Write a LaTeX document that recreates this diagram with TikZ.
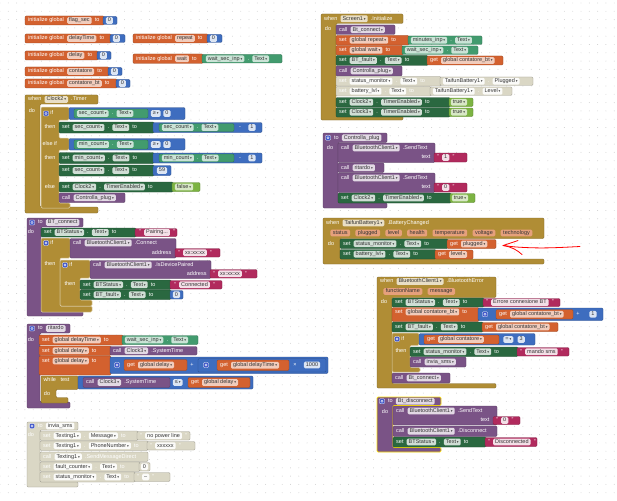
\documentclass[tikz,border=0pt]{standalone}
\usepackage{fontspec}
\setmainfont{Liberation Sans}
\newfontfamily\symf{DejaVu Sans}
\usetikzlibrary{positioning}
\definecolor{aiOrange}{HTML}{D3612F}
\definecolor{aiBlue}{HTML}{3E6DBF}
\definecolor{aiSet}{HTML}{2A6840}
\definecolor{aiGet}{HTML}{429B6E}
\definecolor{aiLogic}{HTML}{7CB342}
\definecolor{aiProc}{HTML}{7A5386}
\definecolor{aiText}{HTML}{B12A5D}
\definecolor{aiCtrl}{HTML}{B08D35}
\definecolor{aiOff}{HTML}{DAD7C5}
\definecolor{aiGear}{HTML}{3F56C9}
\definecolor{aiPar}{HTML}{E6A07C}
\newcommand\ai{\fontsize{5.5}{6}\selectfont}
\newcommand\dd{\,{\symf\fontsize{3.5}{3.5}\selectfont ▾}}
\tikzset{
  blk/.style={draw=#1!72!black, fill=#1, line width=0.3pt, rounded corners=1.2pt},
  ifblk/.style={draw=aiCtrl!40!white, fill=aiCtrl, line width=0.5pt, rounded corners=1.2pt},
  selblk/.style={draw=yellow!85!orange, fill=aiProc, line width=0.7pt, rounded corners=1.2pt},
  lbl/.style={text=white, inner xsep=0.3pt, inner ysep=0.5pt, text height=3.9pt, text depth=1.1pt, font=\ai},
  fld/.style={fill=#1, rounded corners=1.2pt, inner xsep=2pt, inner ysep=0.8pt, text height=3.9pt, text depth=1.1pt, text=black!80, font=\ai},
  fo/.style={fld=aiOrange!32!white},
  fg/.style={fld=aiSet!22!white},
  fl/.style={fld=aiGet!28!white},
  fp/.style={fld=aiProc!22!white},
  fk/.style={fld=aiText!15!white},
  fb/.style={fld=aiBlue!18!white},
  fc/.style={fld=aiCtrl!28!white},
  fv/.style={fld=aiLogic!30!white},
  fw/.style={fld=white!90!aiOff},
  fpar/.style={fld=aiPar, inner xsep=2.5pt},
  gear/.style={fill=aiGear, draw=white, line width=0.3pt, minimum size=5pt, inner sep=0pt, rounded corners=0.8pt,
    path picture={\draw[white, line width=0.4pt] (path picture bounding box.center) circle (1.1pt);}},
  dots/.style={draw=black!20, line width=0.9pt, line cap=round, dash pattern=on 0pt off 8.3pt},
}
% one row of labels and fields inside a block
\newcommand{\row}[4][2.5pt]{%
  \node[inner sep=0pt, minimum size=0pt] (r0) at (#2,#3) {};
  \foreach \s/\t [count=\i, remember=\i as \j (initially 0)] in {#4}
    {\node[\s, right=#1 of r\j] (r\i) {\t};}
}
\begin{document}
\begin{tikzpicture}[x=1pt,y=-1pt]
\useasboundingbox (0,0) rectangle (617,500);
\fill[white] (0,0) rectangle (617,500);
\foreach \yy in {3,11.3,...,500} \draw[dots] (0,\yy) -- (617,\yy);

% global variables
\draw[blk=aiOrange] (25,16) rectangle (104,25);
\draw[blk=aiBlue] (103,16.5) rectangle (117,24.5);
\row{25}{20.5}{lbl/initialize global, fo/flag\_sec, lbl/to}
\row[1.5pt]{104}{20.5}{fb/0}
\draw[blk=aiOrange] (25,34) rectangle (111,43);
\draw[blk=aiBlue] (110,34.5) rectangle (125,42.5);
\row{25}{38.5}{lbl/initialize global, fo/delayTime, lbl/to}
\row[1.5pt]{111}{38.5}{fb/0}
\draw[blk=aiOrange] (133,34) rectangle (208,43);
\draw[blk=aiBlue] (207,34.5) rectangle (222,42.5);
\row{133}{38.5}{lbl/initialize global, fo/repeat, lbl/to}
\row[1.5pt]{208}{38.5}{fb/0}
\draw[blk=aiOrange] (25,51) rectangle (98,60);
\draw[blk=aiBlue] (97,51.5) rectangle (111,59.5);
\row{25}{55.5}{lbl/initialize global, fo/delay, lbl/to}
\row[1.5pt]{98}{55.5}{fb/0}
\draw[blk=aiOrange] (133,54) rectangle (203,63.5);
\draw[blk=aiGet] (202,54.5) rectangle (282,63);
\row{133}{58.75}{lbl/initialize global, fo/wait, lbl/to}
\row{203}{58.75}{fl/wait\_sec\_inp\dd, lbl/., fl/Text\dd}
\draw[blk=aiOrange] (25,67) rectangle (109,76);
\draw[blk=aiBlue] (108,67.5) rectangle (122,75.5);
\row{25}{71.5}{lbl/initialize global, fo/contatore, lbl/to}
\row[1.5pt]{109}{71.5}{fb/0}
\draw[blk=aiOrange] (25,79) rectangle (117,88);
\draw[blk=aiBlue] (116,79.5) rectangle (130,87.5);
\row{25}{83.5}{lbl/initialize global, fo/contatore\_bt, lbl/to}
\row[1.5pt]{117}{83.5}{fb/0}

% when Clock2.Timer
\draw[blk=aiCtrl] (25,95) -- (98,95) -- (98,104) -- (40,104) -- (40,207) -- (98,207) -- (98,213) -- (25,213) -- cycle;
\row{25}{99.5}{lbl/when, fc/Clock2\dd, lbl/.Timer}
\node[lbl] (do1) at (32,111) {do};
\draw[ifblk] (41,107) -- (69,107) -- (69,120) -- (59,120) -- (59,138) -- (69,138) -- (69,150) -- (59,150) -- (59,203) -- (70,203) -- (70,208) -- (41,208) -- cycle;
\node[gear] (gif1) at (46,113.5) {};
\node[lbl, right=1.2pt of gif1] (if1) {if};
\draw[blk=aiBlue] (69,107.5) rectangle (185,119.5);
\draw[blk=aiGet] (74,109) rectangle (148,118);
\row{74}{113.5}{fl/sec\_count\dd, lbl/., fl/Text\dd}
\row{148}{113.5}{fb/≥\dd, fb/0}
\node[lbl] (thn1) at (50,127.5) {then};
\draw[blk=aiSet] (59,122) rectangle (154,133);
\draw[blk=aiBlue] (153,122.5) rectangle (262,132.5);
\draw[blk=aiGet] (159,123.5) rectangle (234,131.5);
\row{59}{127.5}{lbl/set, fg/sec\_count\dd, lbl/., fg/Text\dd, lbl/to}
\row{159}{127.5}{fl/sec\_count\dd, lbl/., fl/Text\dd}
\node[lbl] (mn1) at (240,127.5) {-};
\node[fb] (one1) at (252,127.5) {1};
\node[lbl, anchor=west] (elif) at (42,144.5) {else if};
\draw[blk=aiBlue] (69,138.5) rectangle (185,150);
\draw[blk=aiGet] (74,140) rectangle (148,149);
\row{74}{144.5}{fl/min\_count\dd, lbl/., fl/Text\dd}
\row{148}{144.5}{fb/≥\dd, fb/0}
\node[lbl] (thn2) at (50,158) {then};
\draw[blk=aiSet] (59,152.5) rectangle (154,163.5);
\draw[blk=aiBlue] (153,153) rectangle (262,163);
\draw[blk=aiGet] (159,154) rectangle (234,162);
\row{59}{158}{lbl/set, fg/min\_count\dd, lbl/., fg/Text\dd, lbl/to}
\row{159}{158}{fl/min\_count\dd, lbl/., fl/Text\dd}
\node[lbl] (mn2) at (240,158) {-};
\node[fb] (one2) at (252,158) {1};
\draw[blk=aiSet] (59,165) rectangle (154,176);
\draw[blk=aiBlue] (153,165.5) rectangle (171,175.5);
\row{59}{170.5}{lbl/set, fg/sec\_count\dd, lbl/., fg/Text\dd, lbl/to}
\node[fb] (n59) at (162,170.5) {59};
\node[lbl] (els) at (50,187) {else};
\draw[blk=aiSet] (59,182) rectangle (173,192);
\draw[blk=aiLogic] (172,182.5) rectangle (200,191.5);
\row{59}{187}{lbl/set, fg/Clock2\dd, lbl/., fg/TimerEnabled\dd, lbl/to}
\row[1.5pt]{173}{187}{fv/false\dd}
\draw[blk=aiProc] (59,193) rectangle (125,202.5);
\row{59}{197.75}{lbl/call, fp/Controlla\_plug\dd}

% to BT_connect
\draw[blk=aiProc] (27,218) -- (83,218) -- (83,227) -- (41,227) -- (41,308) -- (83,308) -- (83,316) -- (27,316) -- cycle;
\node[gear] (gp1) at (32,222.5) {};
\row{35}{222.5}{lbl/to, fp/BT\_connect}
\node[lbl] (do2) at (31,232.5) {do};
\draw[blk=aiSet] (41,228) rectangle (136,237);
\draw[blk=aiText] (135,228.5) rectangle (177,236.5);
\row{41}{232.5}{lbl/set, fg/BTStatus\dd, lbl/., fg/Text\dd, lbl/to}
\row{136}{232.5}{lbl/", fk/{Pairing...}, lbl/"}
\draw[ifblk] (41,238) -- (70,238) -- (70,258) -- (60,258) -- (60,306) -- (92,306) -- (92,312) -- (41,312) -- cycle;
\node[gear] (gif2) at (46,243) {};
\node[lbl, right=1.2pt of gif2] (if2) {if};
\draw[blk=aiProc] (70,238.5) rectangle (176,258);
\row{70}{243}{lbl/call, fp/BluetoothClient1\dd, lbl/.Connect}
\node[lbl, anchor=east] (adr1) at (172,252.75) {address};
\draw[blk=aiText] (175,248.5) rectangle (220,257);
\row{175}{252.75}{lbl/", fk/xx:xx:xx, lbl/"}
\node[lbl] (thn3) at (50,264) {then};
\draw[ifblk] (60,260) -- (90,260) -- (90,278) -- (80,278) -- (80,300) -- (92,300) -- (92,306) -- (60,306) -- cycle;
\node[gear] (gif3) at (65,265) {};
\node[lbl, right=1.2pt of gif3] (if3) {if};
\draw[blk=aiProc] (90,260.5) rectangle (211,278.5);
\row{90}{265}{lbl/call, fp/BluetoothClient1\dd, lbl/.IsDevicePaired}
\node[lbl, anchor=east] (adr2) at (207,273.75) {address};
\draw[blk=aiText] (210,269.5) rectangle (257,278);
\row{210}{273.75}{lbl/", fk/xx:xx:xx, lbl/"}
\node[lbl] (thn4) at (70,284.5) {then};
\draw[blk=aiSet] (80,280) rectangle (171,289.5);
\draw[blk=aiText] (170,280.5) rectangle (222,289);
\row{80}{284.75}{lbl/set, fg/BTStatus\dd, lbl/., fg/Text\dd, lbl/to}
\row{171}{284.75}{lbl/", fk/Connected, lbl/"}
\draw[blk=aiSet] (80,290) rectangle (171,299.5);
\draw[blk=aiBlue] (170,290.5) rectangle (183,299);
\row{80}{294.75}{lbl/set, fg/BT\_fault\dd, lbl/., fg/Text\dd, lbl/to}
\node[fb] (z1) at (176.5,294.75) {0};

% to ritardo
\draw[blk=aiProc] (27,324) -- (70,324) -- (70,333) -- (40,333) -- (40,402) -- (70,402) -- (70,408) -- (27,408) -- cycle;
\node[gear] (gp2) at (32,328.5) {};
\row{35}{328.5}{lbl/to, fp/ritardo}
\node[lbl] (do3) at (31,340) {do};
\draw[blk=aiOrange] (39,335) rectangle (123,345);
\draw[blk=aiGet] (122,335.5) rectangle (198,344.5);
\row{39}{340}{lbl/set, fo/global delayTime\dd, lbl/to}
\row{122}{340}{fl/wait\_sec\_inp\dd, lbl/., fl/Text\dd}
\draw[blk=aiOrange] (39,346) rectangle (111,355.5);
\draw[blk=aiProc] (110,346.5) rectangle (197,355);
\row{39}{350.75}{lbl/set, fo/global delay\dd, lbl/to}
\row{110}{350.75}{lbl/call, fp/Clock3\dd, lbl/.SystemTime}
\draw[blk=aiOrange] (39,356) rectangle (111,375);
\draw[blk=aiBlue] (110,357) rectangle (328,373.5);
\row{39}{361}{lbl/set, fo/global delay\dd, lbl/to}
\node[gear] (gm1) at (117,365) {};
\draw[blk=aiOrange] (124,359.5) rectangle (187,370.5);
\row{124}{365}{lbl/get, fo/global delay\dd}
\node[lbl] (pl1) at (192,365) {+};
\draw[blk=aiBlue] (198,358.5) rectangle (326,372);
\node[gear] (gm2) at (206,365) {};
\draw[blk=aiOrange] (217,360) rectangle (289,370.5);
\row{217}{365.25}{lbl/get, fo/global delayTime\dd}
\node[lbl] (tm1) at (295,365) {×};
\node[fb] (k1) at (312,365) {1000};
\draw[blk=aiCtrl] (41,376) -- (78,376) -- (78,389.5) -- (56,389.5) -- (56,397.5) -- (68,397.5) -- (68,403) -- (41,403) -- cycle;
\node[lbl, anchor=west] (whl) at (43,380.5) {while};
\node[lbl, anchor=west] (tst) at (60,380.5) {test};
\node[lbl] (do4) at (47,394) {do};
\draw[blk=aiBlue] (78,376) rectangle (253,389);
\draw[blk=aiProc] (83,377.5) rectangle (170,387.5);
\row{83}{382.5}{lbl/call, fp/Clock3\dd, lbl/.SystemTime}
\row{170}{382.5}{fb/≤\dd}
\draw[blk=aiOrange] (188,377.5) rectangle (250,387.5);
\row{188}{382.5}{lbl/get, fo/global delay\dd}

% to invia_sms (disabled)
\draw[blk=aiOff] (27,422) -- (78,422) -- (78,430) -- (40,430) -- (40,482) -- (78,482) -- (78,487) -- (27,487) -- cycle;
\node[gear] (gp3) at (32,426) {};
\row{35}{426}{lbl/to, fw/invia\_sms}
\node[lbl] (do5) at (31,435.5) {do};
\draw[blk=aiOff] (40,431) rectangle (138,440.5);
\draw[blk=aiOff] (137,431.5) rectangle (190,440);
\row{40}{435.75}{lbl/set, fw/Texting1\dd, lbl/., fw/Message\dd, lbl/to}
\row{137}{435.75}{lbl/", fw/no power line, lbl/"}
\draw[blk=aiOff] (40,441) rectangle (148,450.5);
\draw[blk=aiOff] (147,441.5) rectangle (195,450);
\row{40}{445.75}{lbl/set, fw/Texting1\dd, lbl/., fw/PhoneNumber\dd, lbl/to}
\row{147}{445.75}{lbl/", fw/xxxxxx, lbl/"}
\draw[blk=aiOff] (40,452) rectangle (148,461.5);
\row{40}{456.75}{lbl/call, fw/Texting1\dd, lbl/.SendMessageDirect}
\draw[blk=aiOff] (40,462) rectangle (140,471.5);
\draw[blk=aiOff] (139,462.5) rectangle (150,471);
\row{40}{466.75}{lbl/set, fw/fault\_counter\dd, lbl/., fw/Text\dd, lbl/to}
\node[fw] (z2) at (144.5,466.75) {0};
\draw[blk=aiOff] (40,472) rectangle (135,482);
\draw[blk=aiOff] (134,472.5) rectangle (170,481.5);
\row{40}{477}{lbl/set, fw/status\_monitor\dd, lbl/., fw/Text\dd, lbl/to}
\row{134}{477}{lbl/", fw/--, lbl/"}

% when Screen1.Initialize
\draw[blk=aiCtrl] (321,14) -- (403,14) -- (403,23.5) -- (336,23.5) -- (336,114) -- (403,114) -- (403,120) -- (321,120) -- cycle;
\row{321}{18.75}{lbl/when, fc/Screen1\dd, lbl/.Initialize}
\node[lbl] (do6) at (328,29) {do};
\draw[blk=aiProc] (336,25) rectangle (395,34.5);
\row{336}{29.75}{lbl/call, fp/Bt\_connect\dd}
\draw[blk=aiOrange] (336,35.5) rectangle (409,45);
\draw[blk=aiGet] (408,36) rectangle (482,44.5);
\row{336}{40.25}{lbl/set, fo/global repeat\dd, lbl/to}
\row{408}{40.25}{fl/minutes\_inp\dd, lbl/., fl/Text\dd}
\draw[blk=aiOrange] (336,45.5) rectangle (403,55);
\draw[blk=aiGet] (402,46) rectangle (478,54.5);
\row{336}{50.25}{lbl/set, fo/global wait\dd, lbl/to}
\row{402}{50.25}{fl/wait\_sec\_inp\dd, lbl/., fl/Text\dd}
\draw[blk=aiSet] (336,55.5) rectangle (428,65.5);
\draw[blk=aiOrange] (427,56) rectangle (503,65);
\row{336}{60.5}{lbl/set, fg/BT\_fault\dd, lbl/., fg/Text\dd, lbl/to}
\row{427}{60.5}{lbl/get, fo/global contatore\_bt\dd}
\draw[blk=aiProc] (336,66) rectangle (402,76);
\row{336}{71}{lbl/call, fp/Controlla\_plug\dd}
\draw[blk=aiOff] (336,76.5) rectangle (441,86);
\draw[blk=aiOff] (440,77) rectangle (533,85.5);
\row{336}{81.25}{lbl/set, fw/status\_monitor\dd, lbl/., fw/Text\dd, lbl/to}
\row{440}{81.25}{fw/TaifunBattery1\dd, lbl/., fw/Plugged\dd}
\draw[blk=aiOff] (336,86.5) rectangle (431,96);
\draw[blk=aiOff] (430,87) rectangle (512,95.5);
\row{336}{91.25}{lbl/set, fw/battery\_lvl\dd, lbl/., fw/Text\dd, lbl/to}
\row{430}{91.25}{fw/TaifunBattery1\dd, lbl/., fw/Level\dd}
\draw[blk=aiSet] (336,97.5) rectangle (450,107);
\draw[blk=aiLogic] (449,98) rectangle (473,106.5);
\row{336}{102.25}{lbl/set, fg/Clock2\dd, lbl/., fg/TimerEnabled\dd, lbl/to}
\row[1.5pt]{449}{102.25}{fv/true\dd}
\draw[blk=aiSet] (336,107.5) rectangle (450,117);
\draw[blk=aiLogic] (449,108) rectangle (473,116.5);
\row{336}{112.25}{lbl/set, fg/Clock3\dd, lbl/., fg/TimerEnabled\dd, lbl/to}
\row[1.5pt]{449}{112.25}{fv/true\dd}

% to Controlla_plug
\draw[blk=aiProc] (323,133) -- (387,133) -- (387,142.5) -- (338,142.5) -- (338,203) -- (387,203) -- (387,208) -- (323,208) -- cycle;
\node[gear] (gp4) at (328,137.75) {};
\row{331}{137.75}{lbl/to, fp/Controlla\_plug}
\node[lbl] (do7) at (330,148) {do};
\draw[blk=aiProc] (338,143) rectangle (435,162.5);
\row{338}{148}{lbl/call, fp/BluetoothClient1\dd, lbl/.SendText}
\node[lbl, anchor=east] (txt1) at (431,157.5) {text};
\draw[blk=aiText] (434,153) rectangle (467,162);
\row{434}{157.5}{lbl/", fk/1, lbl/"}
\draw[blk=aiProc] (338,163) rectangle (384,172.5);
\row{338}{167.75}{lbl/call, fp/ritardo\dd}
\draw[blk=aiProc] (338,173) rectangle (435,192.5);
\row{338}{178}{lbl/call, fp/BluetoothClient1\dd, lbl/.SendText}
\node[lbl, anchor=east] (txt2) at (431,187.5) {text};
\draw[blk=aiText] (434,183) rectangle (467,192);
\row{434}{187.5}{lbl/", fk/0, lbl/"}
\draw[blk=aiSet] (338,193) rectangle (451,203);
\draw[blk=aiLogic] (450,193.5) rectangle (475,202.5);
\row{338}{198}{lbl/set, fg/Clock2\dd, lbl/., fg/TimerEnabled\dd, lbl/to}
\row[1.5pt]{450}{198}{fv/true\dd}

% when TaifunBattery1.BatteryChanged
\draw[blk=aiCtrl] (323,218) -- (544,218) -- (544,238.5) -- (340,238.5) -- (340,259) -- (544,259) -- (544,264) -- (323,264) -- cycle;
\row{323}{223}{lbl/when, fc/TaifunBattery1\dd, lbl/.BatteryChanged}
\row[5pt]{325}{233}{fpar/status, fpar/plugged, fpar/level, fpar/health, fpar/temperature, fpar/voltage, fpar/technology}
\node[lbl] (do8) at (331,244) {do};
\draw[blk=aiSet] (340,239) rectangle (448,248.5);
\draw[blk=aiOrange] (447,239.5) rectangle (496,248.5);
\row{340}{243.75}{lbl/set, fg/status\_monitor\dd, lbl/., fg/Text\dd, lbl/to}
\row{447}{244}{lbl/get, fo/plugged\dd}
\draw[blk=aiSet] (340,249.5) rectangle (436,259);
\draw[blk=aiOrange] (435,250) rectangle (473,259);
\row{340}{254.25}{lbl/set, fg/battery\_lvl\dd, lbl/., fg/Text\dd, lbl/to}
\row{435}{254.5}{lbl/get, fo/level\dd}
% red hand-drawn arrow
\coordinate (tail) at (580,246.5);
\coordinate (tip) at (503,245.5);
\draw[red, line width=0.8pt, line cap=round] (tail) .. controls (560,247.5) and (545,248.5) .. (525,247.5) .. controls (515,247) .. (tip);
\draw[red, line width=0.8pt, line cap=round, line join=round] (518,240.5) -- (tip) .. controls (512,247) and (517,250) .. (522,254.5);

% when BluetoothClient1.BluetoothError
\draw[blk=aiCtrl] (377,277) -- (496,277) -- (496,297.5) -- (392,297.5) -- (392,383.5) -- (496,383.5) -- (496,388) -- (377,388) -- cycle;
\row{377}{281.5}{lbl/when, fc/BluetoothClient1\dd, lbl/.BluetoothError}
\row[5pt]{378}{291.5}{fpar/functionName, fpar/message}
\node[lbl] (do9) at (384,302) {do};
\draw[blk=aiSet] (392,298) rectangle (484,307);
\draw[blk=aiText] (483,298.5) rectangle (560,306.5);
\row{392}{302.5}{lbl/set, fg/BTStatus\dd, lbl/., fg/Text\dd, lbl/to}
\row{483}{302.5}{lbl/", fk/Errore connesione BT, lbl/"}
\draw[blk=aiOrange] (392,307.5) rectangle (479,321.5);
\draw[blk=aiBlue] (478,308) rectangle (603,320.5);
\row{392}{312}{lbl/set, fo/global contatore\_bt\dd, lbl/to}
\node[gear] (gm3) at (485,314.25) {};
\draw[blk=aiOrange] (496,309.5) rectangle (573,319);
\row{496}{314.25}{lbl/get, fo/global contatore\_bt\dd}
\node[lbl] (pl2) at (578,314.25) {+};
\node[fb] (one3) at (593,314.25) {1};
\draw[blk=aiSet] (392,322) rectangle (483,332);
\draw[blk=aiOrange] (482,322.5) rectangle (558,331.5);
\row{392}{327}{lbl/set, fg/BT\_fault\dd, lbl/., fg/Text\dd, lbl/to}
\row{482}{327}{lbl/get, fo/global contatore\_bt\dd}
\draw[ifblk] (392,333) -- (419,333) -- (419,345.5) -- (410,345.5) -- (410,367.5) -- (420,367.5) -- (420,372) -- (392,372) -- cycle;
\node[gear] (gif4) at (397,339) {};
\node[lbl, right=1.2pt of gif4] (if4) {if};
\draw[blk=aiBlue] (419,333.5) rectangle (535,345);
\draw[blk=aiOrange] (424,335) rectangle (499,344);
\row{424}{339.5}{lbl/get, fo/global contatore\dd}
\row[4pt]{499}{339.5}{fb/=\dd, fb/3}
\node[lbl] (thn5) at (401,351.5) {then};
\draw[blk=aiSet] (410,347) rectangle (518,356.5);
\draw[blk=aiText] (517,347.5) rectangle (569,356);
\row{410}{351.75}{lbl/set, fg/status\_monitor\dd, lbl/., fg/Text\dd, lbl/to}
\row{517}{351.75}{lbl/", fk/mando sms, lbl/"}
\draw[blk=aiProc] (410,357) rectangle (466,367);
\row{410}{362}{lbl/call, fp/invia\_sms\dd}
\draw[blk=aiProc] (392,373) rectangle (450,383);
\row{392}{378}{lbl/call, fp/Bt\_connect\dd}

% to Bt_disconnect (selected)
\draw[selblk] (377,397) -- (441,397) -- (441,405.5) -- (393,405.5) -- (393,447.5) -- (441,447.5) -- (441,452) -- (377,452) -- cycle;
\node[gear] (gp5) at (382,401.25) {};
\row{385}{401.25}{lbl/to, fp/Bt\_disconnect}
\node[lbl] (do10) at (385,412) {do};
\draw[blk=aiProc] (393,406) rectangle (497,425);
\row{393}{411}{lbl/call, fp/BluetoothClient1\dd, lbl/.SendText}
\node[lbl, anchor=east] (txt3) at (490,420.5) {text};
\draw[blk=aiText] (493,416.5) rectangle (520,424.5);
\row{493}{420.5}{lbl/", fk/0, lbl/"}
\draw[blk=aiProc] (393,426) rectangle (497,436.5);
\row{393}{431.25}{lbl/call, fp/BluetoothClient1\dd, lbl/.Disconnect}
\draw[blk=aiSet] (393,437) rectangle (486,447);
\draw[blk=aiText] (485,437.5) rectangle (537,446.5);
\row{393}{442}{lbl/set, fg/BTStatus\dd, lbl/., fg/Text\dd, lbl/to}
\row{485}{442}{lbl/", fk/Disconnected, lbl/"}
\end{tikzpicture}
\end{document}
